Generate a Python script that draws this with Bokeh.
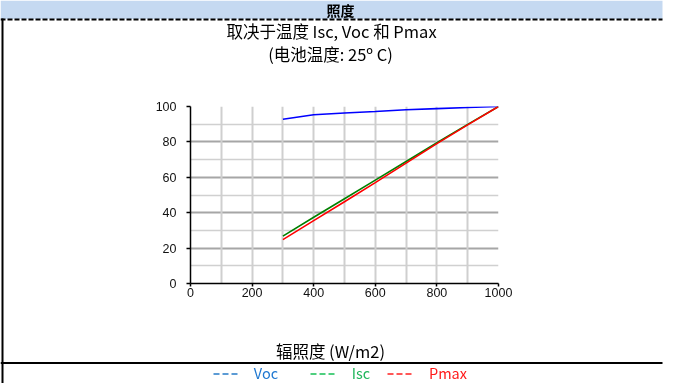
from bokeh.plotting import figure
from bokeh.models import Range1d, FixedTicker, Grid
from bokeh.core.properties import value
from bokeh.embed import file_html
from bokeh.resources import INLINE

# ---- data ----
irradiance = [300, 400, 500, 600, 700, 800, 900, 1000]
voc = [92.8, 95.3, 96.3, 97.2, 98.2, 98.8, 99.4, 100]
isc = [26.8, 37.4, 47.9, 58.4, 68.9, 79.5, 89.9, 100]
pmax = [24.8, 35.5, 46.2, 57.0, 68.0, 79.0, 89.6, 100]
x_ticks = [0, 200, 400, 600, 800, 1000]
x_grid_ticks = [100, 200, 300, 400, 500, 600, 700, 800, 900, 1000]
y_ticks = [0, 20, 40, 60, 80, 100]
y_minor_ticks = [10, 30, 50, 70, 90]
header_text = "照度"
title_line1 = "取决于温度 Isc, Voc 和 Pmax"
title_line2 = "(电池温度: 25º C)"
x_label = "辐照度 (W/m2)"
series_names = ["Voc", "Isc", "Pmax"]
series_colors = ["#0000ff", "#008000", "#ff0000"]

W, H = 683, 383
FONT = value("Noto Sans CJK SC")
FS = "16.5px"

# ---------- background "sheet" figure (pixel coordinates, y down) ----------
bg = figure(width=W, height=H, output_backend="svg", toolbar_location=None,
            x_range=Range1d(0, W), y_range=Range1d(H, 0),
            x_axis_type=None, y_axis_type=None,
            min_border=0, min_border_left=0, min_border_right=0,
            min_border_top=0, min_border_bottom=0)
bg.styles = {"position": "fixed", "top": "0px", "left": "0px"}
bg.outline_line_color = None
bg.grid.visible = False

bg.quad(left=[0], right=[662], top=[0], bottom=[18.5], fill_color="#C5D9F1", line_color=None)
bg.segment(x0=[0], y0=[19], x1=[662], y1=[19], line_color="black", line_width=2, line_dash="5 2")
bg.segment(x0=[2], y0=[18], x1=[2], y1=[H], line_color="black", line_width=2)
bg.segment(x0=[0], y0=[362.5], x1=[662], y1=[362.5], line_color="black", line_width=2)

def txt(x, y, t, color="black", size=FS, style="normal"):
    bg.text(x=[x], y=[y], text=[t], text_align="center", text_baseline="middle",
            text_font=FONT, text_font_size=size, text_font_style=style, text_color=color)

txt(340, 9.5, header_text, size="14px", style="bold")
txt(331, 30.5, title_line1)
txt(330, 53.5, title_line2)
txt(330, 350.5, x_label)

leg_colors_dash = ["#5b9bd5", "#4fcf7f", "#ff5757"]
leg_colors_text = ["#1f78d1", "#1fb55a", "#ff1a1a"]
dash_x0 = [213, 310, 387]
dash_x1 = [239, 337, 413]
name_x = [265.5, 360.5, 447.5]
for x0, x1, nx, dc, tc, nm in zip(dash_x0, dash_x1, name_x, leg_colors_dash, leg_colors_text, series_names):
    bg.segment(x0=[x0], y0=[373.5], x1=[x1], y1=[373.5], line_color=dc, line_width=1.8, line_dash="6 3")
    txt(nx, 372, nm, color=tc, size="14.5px")

# ---------- chart figure ----------
BL, BT, BR, BB = 40, 10, 25, 25
FW, FH = 308, 177
p = figure(frame_width=FW, frame_height=FH, output_backend="svg", toolbar_location=None,
           x_range=Range1d(0, 1000), y_range=Range1d(0, 100),
           min_border_left=BL, min_border_right=BR,
           min_border_top=BT, min_border_bottom=BB,
           background_fill_color="white", border_fill_alpha=0)
p.styles = {"position": "fixed", "top": f"{106 - BT}px", "left": f"{190 - BL}px"}
p.outline_line_color = None

for ax in (p.xaxis[0], p.yaxis[0]):
    ax.axis_line_color = "black"
    ax.axis_line_width = 1.5
    ax.major_tick_line_color = "black"
    ax.major_tick_line_width = 1.5
    ax.major_tick_in = 0
    ax.minor_tick_line_color = None
    ax.major_label_text_font = "Liberation Sans"
    ax.major_label_text_font_size = "12.5px"
    ax.major_label_text_color = "#111111"
p.xaxis.ticker = FixedTicker(ticks=x_ticks)
p.yaxis.ticker = FixedTicker(ticks=y_ticks)
p.xaxis.major_tick_out = 3
p.yaxis.major_tick_out = 4
p.xaxis.major_label_standoff = 1
p.yaxis.major_label_standoff = 10

p.xgrid.visible = False
p.ygrid.ticker = FixedTicker(ticks=y_ticks, minor_ticks=y_minor_ticks)
p.ygrid.grid_line_color = "#a6a6a6"
p.ygrid.grid_line_width = 2
p.ygrid.minor_grid_line_color = "#d0d0d0"
p.ygrid.minor_grid_line_width = 1.5
p.add_layout(Grid(dimension=0, ticker=FixedTicker(ticks=x_grid_ticks),
                  grid_line_color="#cfcfcf", grid_line_width=2), "center")

for ys, c in zip([voc, isc, pmax], series_colors):
    p.line(irradiance, ys, line_color=c, line_width=1.6)

open("out.html", "w").write(file_html([bg, p], INLINE))
